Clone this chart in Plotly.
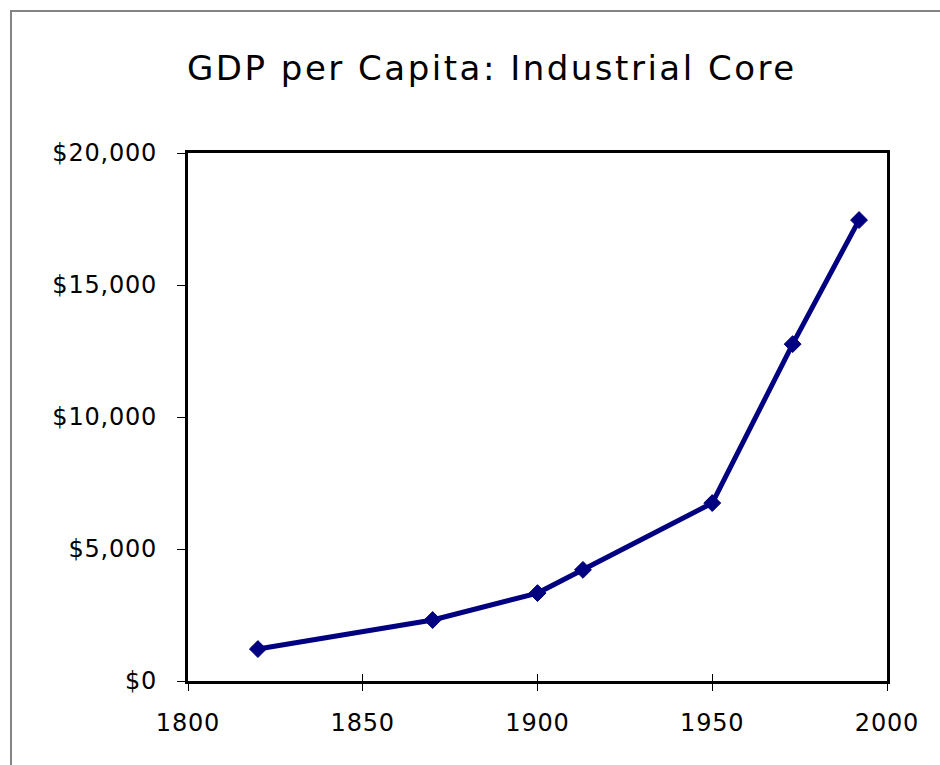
import plotly.graph_objects as go

# GDP per capita of the industrial core, by year
years = [1820, 1870, 1900, 1913, 1950, 1973, 1992]
gdp_per_capita = [1210, 2310, 3330, 4210, 6740, 12760, 17460]

y_tick_values = [0, 5000, 10000, 15000, 20000]
y_tick_labels = ["$0", "$5,000", "$10,000", "$15,000", "$20,000"]
x_tick_values = [1800, 1850, 1900, 1950, 2000]
x_tick_labels = ["1800", "1850", "1900", "1950", "2000"]

W, H = 940, 765
L, R, T, B = 188, 53, 153, 84
plot_w = W - L - R
plot_h = H - T - B

NAVY = "#000080"
SPACED = '<span style="letter-spacing:0.8px">{}</span>'


def px_to_paper_x(px):
    return (px - L) / plot_w


def px_to_paper_y(py):
    return (H - B - py) / plot_h


fig = go.Figure()
fig.add_trace(go.Scatter(
    x=years,
    y=gdp_per_capita,
    mode="lines+markers",
    line=dict(color=NAVY, width=5),
    marker=dict(symbol="diamond", size=13, color=NAVY,
                line=dict(color=NAVY, width=1)),
    showlegend=False,
    hoverinfo="x+y",
))

tick_font = dict(family="DejaVu Sans, Verdana, sans-serif", size=24, color="#000000")

fig.update_layout(
    width=W,
    height=H,
    margin=dict(l=L, r=R, t=T, b=B, pad=0),
    paper_bgcolor="#ffffff",
    plot_bgcolor="#ffffff",
    title=dict(
        text='<span style="letter-spacing:2.5px">GDP per Capita: Industrial Core</span>',
        font=dict(family="DejaVu Sans, Verdana, sans-serif", size=34, color="#000000"),
        x=187 / W,
        xanchor="left",
        xref="container",
        y=1 - 68 / H,
        yanchor="middle",
        yref="container",
    ),
    xaxis=dict(
        range=[1800, 2000],
        tickvals=x_tick_values,
        ticktext=[SPACED.format(t) for t in x_tick_labels],
        ticks="outside",
        ticklen=7,
        tickwidth=1,
        tickcolor="#000000",
        showline=True,
        linewidth=3,
        linecolor="#000000",
        mirror=True,
        showgrid=False,
        zeroline=False,
        tickfont=tick_font,
        ticklabelstandoff=11,
        fixedrange=True,
    ),
    xaxis2=dict(
        range=[1800, 2000],
        overlaying="x",
        tickvals=x_tick_values,
        ticks="inside",
        ticklen=7,
        tickwidth=1,
        tickcolor="#000000",
        showticklabels=False,
        showgrid=False,
        zeroline=False,
        showline=False,
        anchor="y",
        side="bottom",
        fixedrange=True,
    ),
    yaxis=dict(
        range=[0, 20000],
        tickvals=y_tick_values,
        ticktext=[SPACED.format(t) for t in y_tick_labels],
        ticks="outside",
        ticklen=8,
        tickwidth=1,
        tickcolor="#000000",
        showline=True,
        linewidth=3,
        linecolor="#000000",
        mirror=True,
        showgrid=False,
        zeroline=False,
        tickfont=tick_font,
        ticklabelstandoff=15,
        fixedrange=True,
    ),
    shapes=[
        # outer chart-area frame, running off the bottom and right of the page
        dict(
            type="rect",
            xref="paper", yref="paper",
            x0=px_to_paper_x(11), x1=px_to_paper_x(W + 20),
            y0=px_to_paper_y(H + 20), y1=px_to_paper_y(11),
            line=dict(color="#848484", width=2),
            fillcolor="rgba(0,0,0,0)",
            layer="below",
        )
    ],
)

# an invisible trace on the second x axis so its inside ticks are drawn
fig.add_trace(go.Scatter(x=[None], y=[None], xaxis="x2", showlegend=False, hoverinfo="skip"))

fig.write_html("out.html", config={"displayModeBar": False})
